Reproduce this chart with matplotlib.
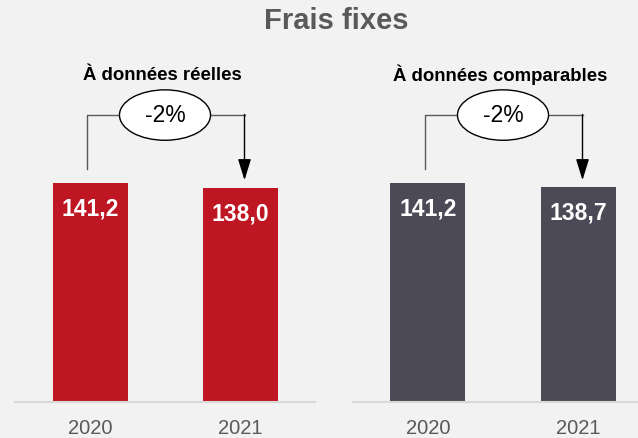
import matplotlib
matplotlib.use("Agg")
import matplotlib.pyplot as plt
from matplotlib.patches import Ellipse

plt.rcParams['font.family'] = ['Liberation Sans', 'DejaVu Sans']

years = ["2020", "2021"]
reelles = [141.2, 138.0]
comparables = [141.2, 138.7]
labels_reelles = ["141,2", "138,0"]
labels_comparables = ["141,2", "138,7"]
variation = ["-2%", "-2%"]
subtitles = ["À données réelles", "À données comparables"]
colors = ["#BE1622", "#4B4A56"]

BG = "#F2F2F2"
W, H = 638, 438
fig = plt.figure(figsize=(W / 100, H / 100), dpi=100, facecolor=BG)

fig.text(336 / W, 1 - 21 / H, "Frais fixes", ha="center", va="center",
         fontsize=21, fontweight="bold", color="#595959")

# axes placement in pixels: left, baseline, width, top
base_y = 402
top_y = 60
ymax = (base_y - top_y) / 1.551


def panel(left_px, values, labels, var, subtitle, color, xm):
    ax = fig.add_axes([left_px / W, (H - base_y) / H, 300 / W, (base_y - top_y) / H])
    ax.set_facecolor(BG)
    ax.set_xlim(-0.5, 1.5)
    ax.set_ylim(0, ymax)
    ax.bar(range(len(values)), values, width=0.5, color=color, zorder=2)
    for i, (v, lab) in enumerate(zip(values, labels)):
        ax.annotate(lab, (i, v), xytext=(0, -18.5), textcoords="offset points",
                    ha="center", va="center", fontsize=16.5, fontweight="bold",
                    color="white", zorder=3)
    for s in ["top", "right", "left"]:
        ax.spines[s].set_visible(False)
    ax.spines["bottom"].set_color("#D9D9D9")
    ax.spines["bottom"].set_linewidth(1.5)
    ax.set_yticks([])
    ax.set_xticks(range(len(values)))
    ax.set_xticklabels(years, fontsize=14.5, color="#595959")
    ax.tick_params(axis="x", length=0, pad=12)

    # bracket with arrow
    yb = 185.0
    x0, x1 = -0.02, 1.03
    ax.plot([x0, x0, xm], [150.2, yb, yb], color="#595959", lw=1, zorder=1)
    ax.plot([xm, x1], [yb, yb], color="#595959", lw=1, zorder=1)
    ax.annotate("", xy=(x1, 143.0), xytext=(x1, yb + 0.4),
                arrowprops=dict(arrowstyle="-|>,head_width=0.4,head_length=1.3",
                                color="black", lw=1, shrinkA=0, shrinkB=0))
    ax.add_patch(Ellipse((xm, yb), 0.607, 32.5, facecolor="white",
                         edgecolor="black", lw=1, zorder=3))
    ax.text(xm, yb, var, ha="center", va="center", fontsize=16.5,
            color="black", zorder=4)
    ax.text(0.48, 210.8, subtitle, ha="center", va="center", fontsize=13.4,
            fontweight="bold", color="black")
    return ax


panel(15, reelles, labels_reelles, variation[0], subtitles[0], colors[0], 0.5)
panel(353, comparables, labels_comparables, variation[1], subtitles[1], colors[1], 0.5)

fig.savefig("out.png", dpi=100, facecolor=BG)
